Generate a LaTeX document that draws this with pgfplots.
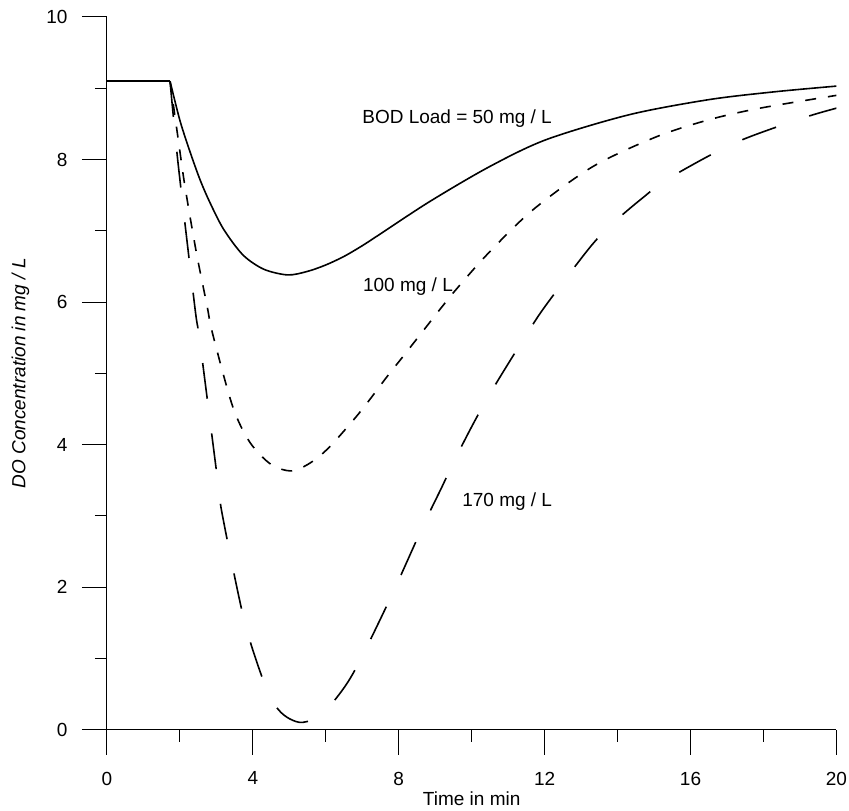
\documentclass[border=0pt]{standalone}
\usepackage{pgfplots}
\pgfplotsset{compat=1.18}
\usepackage{fontspec}
\setmainfont{Liberation Sans}

% DO sag curves for three BOD loads (time in min, DO in mg/L)
\pgfplotstableread{
x y
0    9.10
1.73 9.10
}\plateau

\pgfplotstableread{
x y
1.73 9.10
2.00 8.55
2.27 8.12
2.55 7.72
2.82 7.40
3.20 7.02
3.73 6.66
4.30 6.46
4.96 6.38
5.50 6.43
6.00 6.52
6.50 6.64
7.00 6.79
7.48 6.95
8.85 7.41
10.49 7.90
12.05 8.28
14.33 8.63
16.50 8.84
18.30 8.95
20.00 9.03
}\loadfifty

\pgfplotstableread{
x y
1.73 9.10
1.95 8.30
2.14 7.62
2.45 6.70
2.74 5.96
2.90 5.55
3.45 4.53
3.92 4.03
4.50 3.72
5.07 3.63
5.60 3.75
6.11 3.97
6.93 4.45
7.75 5.00
8.11 5.23
9.12 5.89
9.48 6.12
10.41 6.66
11.67 7.29
13.32 7.90
15.07 8.32
16.52 8.56
17.90 8.72
20.00 8.90
}\loadhundred

\pgfplotstableread{
x y
1.73 9.10
1.95 7.95
2.41 5.93
2.55 5.44
3.04 3.48
3.18 2.97
3.78 1.50
4.38 0.56
4.70 0.28
5.01 0.15
5.37 0.10
5.89 0.21
6.52 0.60
6.99 1.02
7.84 1.92
8.66 2.85
9.18 3.40
9.53 3.78
10.00 4.25
10.44 4.66
10.96 5.10
11.45 5.50
12.00 5.93
13.23 6.76
13.86 7.10
14.66 7.45
15.42 7.74
17.20 8.23
19.07 8.58
20.00 8.72
}\loadonesevenzero

\begin{document}
\begin{tikzpicture}
\begin{axis}[
  scale only axis,
  width=365pt, height=356.5pt,
  xmin=0, xmax=20, ymin=0, ymax=10,
  axis x line*=bottom, axis y line*=left,
  axis line style={line width=0.5pt},
  xtick={0,4,8,12,16,20}, ytick={0,2,4,6,8,10},
  minor x tick num=1, minor y tick num=1,
  tick align=outside,
  major tick length=12.5pt, minor tick length=6pt,
  tick style={line width=0.5pt, black},
  /pgf/number format/assume math mode=true,
  tick label style={font=\fontsize{9.5}{11}\selectfont, inner sep=1pt},
  xticklabel style={yshift=-7.5pt},
  yticklabel style={xshift=-6pt},
  xlabel={Time in min},
  ylabel={\itshape DO Concentration in mg / L},
  label style={font=\fontsize{9.5}{11}\selectfont},
  xlabel style={yshift=-1.1pt, inner sep=1pt},
  ylabel style={yshift=4pt},
  every axis plot/.append style={black, line width=0.8pt},
]
\addplot[line width=0.7pt] table {\plateau};
\addplot[smooth, tension=0.5] table {\loadfifty};
\addplot[smooth, tension=0.5, dash pattern=on 5.5pt off 6pt] table {\loadhundred};
\addplot[smooth, tension=0.5, dash pattern=on 18pt off 17.5pt] table {\loadonesevenzero};
\node[anchor=west, font=\fontsize{9.5}{11}\selectfont] at (axis cs:6.81,8.58) {BOD Load = 50 mg / L};
\node[anchor=west, font=\fontsize{9.5}{11}\selectfont] at (axis cs:6.83,6.21) {100 mg / L};
\node[anchor=west, font=\fontsize{9.5}{11}\selectfont] at (axis cs:9.55,3.20) {170 mg / L};
\coordinate (o) at (axis cs:0,0);
\end{axis}
\path ([shift={(-53.5pt,-40.5pt)}]o) rectangle ++(424.5pt,405.5pt);
\end{tikzpicture}
\end{document}
